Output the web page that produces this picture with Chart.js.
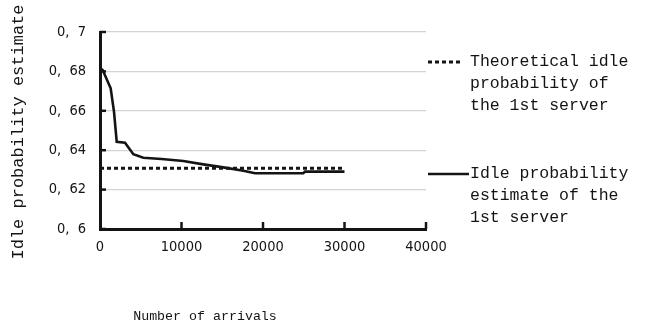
<!DOCTYPE html>
<html>
<head>
<meta charset="utf-8">
<script src="https://cdn.jsdelivr.net/npm/chart.js@4.4.1/dist/chart.umd.min.js"></script>
<style>
  html, body { margin: 0; padding: 0; background: #fff; }
  #wrap { width: 658px; height: 332px; }
</style>
</head>
<body>
<div id="wrap"><canvas id="chart" width="658" height="332"></canvas></div>
<script>
// --- Data ---
const arrivals = [0, 330, 1310, 1720, 2050, 3070, 4090, 5310, 7560, 10220, 12680, 15130, 17590, 19020, 24950, 25150, 30000];
const estimates = [0.6817, 0.6807, 0.6714, 0.6595, 0.6443, 0.6438, 0.638, 0.6362, 0.6355, 0.6345, 0.6328, 0.6313, 0.6296, 0.6283, 0.6283, 0.6291, 0.6291];
const theoryArrivals = [0, 30000];
const theoryValues = [0.6308, 0.6308];

const yTickLabels = ["0, 6", "0, 62", "0, 64", "0, 66", "0, 68", "0, 7"];
const xTickLabels = ["0", "10000", "20000", "30000", "40000"];
const seriesNames = [
    ["Theoretical idle", "probability of", "the 1st server"],
    ["Idle probability", "estimate of the", "1st server"]
];
const xTitle = "Number of arrivals";
const yTitle = "Idle probability estimate";

const FONT = "'Liberation Mono', 'DejaVu Sans Mono', monospace";
const TICKFONT = "'DejaVu Sans Condensed', 'DejaVu Sans', sans-serif";
const INK = "#141414";

// --- Inward ticks, axis titles and side legend ---
const decorPlugin = {
    id: "decor",
    afterDraw: function (chart) {
        var ctx = chart.ctx;
        var xs = chart.scales.x;
        var ys = chart.scales.y;
        var area = chart.chartArea;

        ctx.save();
        ctx.strokeStyle = INK;
        ctx.lineWidth = 2.5;
        ys.ticks.forEach(function (t) {
            var py = ys.getPixelForValue(t.value);
            ctx.beginPath();
            ctx.moveTo(area.left, py);
            ctx.lineTo(area.left + 6, py);
            ctx.stroke();
        });
        xs.ticks.forEach(function (t) {
            if (t.value === 0) return;
            var px = xs.getPixelForValue(t.value);
            ctx.beginPath();
            ctx.moveTo(px, area.bottom);
            ctx.lineTo(px, area.bottom - 7);
            ctx.stroke();
        });

        // axis titles
        ctx.fillStyle = INK;
        ctx.textAlign = "center";
        ctx.textBaseline = "middle";
        ctx.font = "13.3px " + FONT;
        ctx.fillText(xTitle, 205, 316);

        ctx.save();
        ctx.translate(18, 132);
        ctx.rotate(-Math.PI / 2);
        ctx.font = "17px " + FONT;
        ctx.fillText(yTitle, 0, 0);
        ctx.restore();

        // legend
        ctx.font = "16.5px " + FONT;
        ctx.textAlign = "left";
        var ds = chart.data.datasets;
        var blocks = [
            { y: 62, x0: 428, x1: 463, tx: 470, ds: ds[0] },
            { y: 174, x0: 428, x1: 469, tx: 470, ds: ds[1] }
        ];
        blocks.forEach(function (b, i) {
            ctx.save();
            ctx.strokeStyle = b.ds.borderColor;
            ctx.lineWidth = b.ds.borderWidth;
            ctx.setLineDash(b.ds.borderDash || []);
            ctx.beginPath();
            ctx.moveTo(b.x0, b.y);
            ctx.lineTo(b.x1, b.y);
            ctx.stroke();
            ctx.restore();
            seriesNames[i].forEach(function (line, j) {
                ctx.fillText(line, b.tx, b.y + j * 22);
            });
        });
        ctx.restore();
    }
};

new Chart(document.getElementById("chart"), {
    type: "line",
    data: {
        datasets: [
            {
                label: seriesNames[0].join(" "),
                data: theoryArrivals.map(function (a, i) { return { x: a, y: theoryValues[i] }; }),
                borderColor: INK,
                borderWidth: 3,
                borderDash: [4, 3],
                pointRadius: 0,
                tension: 0
            },
            {
                label: seriesNames[1].join(" "),
                data: arrivals.map(function (a, i) { return { x: a, y: estimates[i] }; }),
                borderColor: INK,
                borderWidth: 2.6,
                pointRadius: 0,
                tension: 0
            }
        ]
    },
    options: {
        responsive: false,
        animation: false,
        devicePixelRatio: 1,
        layout: { padding: { left: 0, top: 32, right: 232, bottom: 0 } },
        plugins: {
            legend: { display: false },
            tooltip: { enabled: false }
        },
        scales: {
            x: {
                type: "linear",
                min: 0,
                max: 40000,
                afterFit: function (s) { s.height = 103; },
                afterBuildTicks: function (s) {
                    s.ticks = xTickLabels.map(function (l) { return { value: Number(l) }; });
                },
                ticks: {
                    padding: 10,
                    color: INK,
                    font: { family: TICKFONT, size: 14.5 },
                    maxRotation: 0,
                    callback: function (v, i) { return xTickLabels[i]; }
                },
                grid: { display: false, drawTicks: false },
                border: { color: INK, width: 3 }
            },
            y: {
                min: 0.6,
                max: 0.7,
                afterFit: function (s) { s.width = 100; },
                afterBuildTicks: function (s) {
                    s.ticks = yTickLabels.map(function (l, i) { return { value: 0.6 + i * 0.02 }; });
                },
                ticks: {
                    padding: 14,
                    color: INK,
                    font: { family: TICKFONT, size: 14.5 },
                    callback: function (v, i) { return yTickLabels[i].replace(", ", ",  "); }
                },
                grid: { color: "#d4d4d4", lineWidth: 1.2, drawTicks: false },
                border: { color: INK, width: 3 }
            }
        }
    },
    plugins: [decorPlugin]
});
</script>
</body>
</html>
